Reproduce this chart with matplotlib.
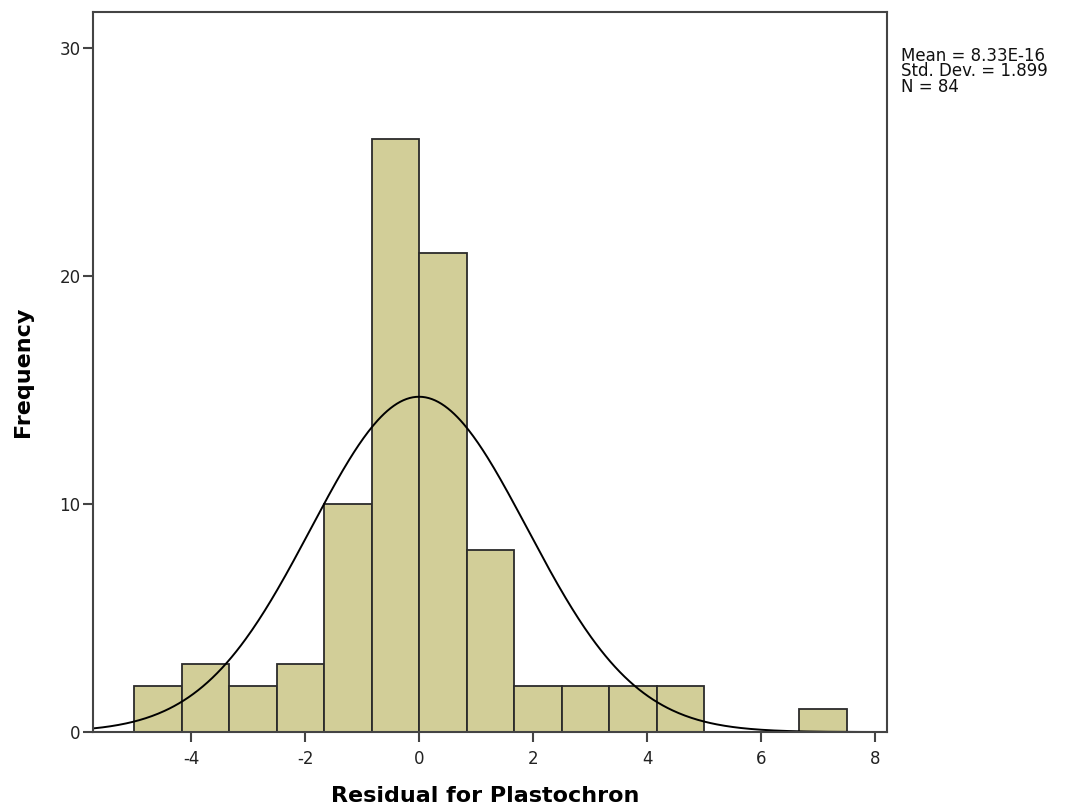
import numpy as np
import matplotlib
matplotlib.use('Agg')
import matplotlib.pyplot as plt

plt.rcParams['font.family'] = ['DejaVu Sans']
plt.rcParams['axes.unicode_minus'] = False

# histogram bins (width 5/6, starting at -5) and counts
bin_edges = [-5 + i * 5 / 6 for i in range(16)]
counts = [2, 3, 2, 3, 10, 26, 21, 8, 2, 2, 2, 2, 0, 0, 1]
mean = 8.33e-16
std = 1.899
n = 84

x_ticks = [-4, -2, 0, 2, 4, 6, 8]
y_ticks = [0, 10, 20, 30]

fig = plt.figure(figsize=(10.66, 8.07), dpi=100)
ax = fig.add_axes([0.0872, 0.0929, 0.7450, 0.8922])

widths = np.diff(bin_edges)
ax.bar(bin_edges[:-1], counts, width=widths, align='edge',
       color='#D2CE98', edgecolor='#2b2b2b', linewidth=1.3)

# normal curve scaled to the histogram
bw = widths[0]
xs = np.linspace(-5.72, 8.21, 500)
ys = n * bw / (std * np.sqrt(2 * np.pi)) * np.exp(-0.5 * ((xs - mean) / std) ** 2)
ax.plot(xs, ys, color='black', linewidth=1.4)

ax.set_xlim(-5.72, 8.21)
ax.set_ylim(0, 31.58)
ax.set_xticks(x_ticks)
ax.set_yticks(y_ticks)
ax.tick_params(direction='out', length=7, width=1.5, color='#444444',
               labelsize=12, labelcolor='#222222')
ax.tick_params(axis='x', pad=6)
ax.tick_params(axis='y', pad=2)
for s in ax.spines.values():
    s.set_color('#444444')
    s.set_linewidth(1.5)

# x label placed by baseline so it sits just above the bottom edge
fig.text(0.455, 0.006, 'Residual for Plastochron', fontsize=16, fontweight='bold',
         ha='center', va='baseline')
ax.set_ylabel('Frequency', fontsize=16, fontweight='bold', labelpad=19)

fig.text(0.845, 0.942, f'Mean = 8.33E-16\nStd. Dev. = {std:.3f}\nN = {n}',
         fontsize=12, va='top', ha='left', linespacing=0.82, color='#111111')

fig.savefig('out.png', dpi=100)
